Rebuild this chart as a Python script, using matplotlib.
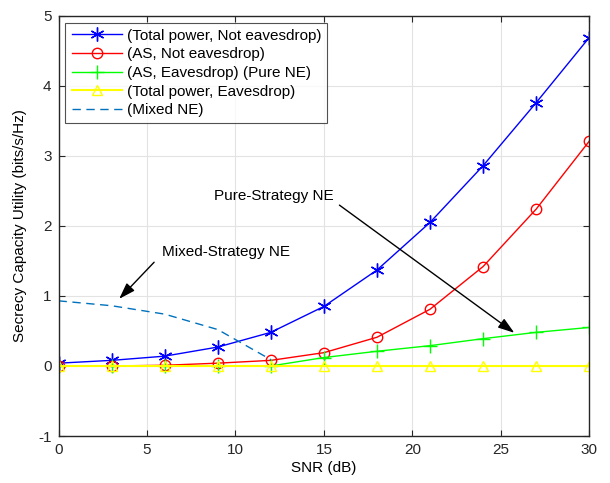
import numpy as np
import matplotlib
matplotlib.use('agg')
import matplotlib.pyplot as plt

plt.rcParams['font.family'] = ['Liberation Sans', 'DejaVu Sans']
plt.rcParams['font.size'] = 11
plt.rcParams['axes.unicode_minus'] = False

snr = [0, 3, 6, 9, 12, 15, 18, 21, 24, 27, 30]
total_not_eve = [0.04, 0.08, 0.14, 0.27, 0.48, 0.85, 1.37, 2.05, 2.86, 3.76, 4.69]
as_not_eve = [0.0, 0.0, 0.01, 0.04, 0.08, 0.19, 0.41, 0.81, 1.42, 2.24, 3.21]
as_eve = [0.0, 0.0, 0.0, 0.0, 0.0, 0.12, 0.21, 0.29, 0.39, 0.48, 0.55]
total_eve = [0.0] * 11
mixed_snr = [0, 3, 6, 9, 12]
mixed_ne = [0.93, 0.86, 0.74, 0.52, 0.09]

fig = plt.figure(figsize=(6.1, 4.83), dpi=100)
ax = fig.add_axes([0.096, 0.0973, 0.87, 0.87])

# asterisk marker like matlab '*'
ax.plot(snr, total_not_eve, '-', marker=(6, 2, 0), color='b', lw=1, ms=10, mew=1,
        label='(Total power, Not eavesdrop)')
ax.plot(snr, as_not_eve, '-o', color='r', lw=1, ms=7.5, mfc='none', mew=1,
        label='(AS, Not eavesdrop)')
ax.plot(snr, as_eve, '-+', color=(0, 1, 0), lw=1, ms=10, mew=1,
        label='(AS, Eavesdrop) (Pure NE)')
ax.plot(snr, total_eve, '-^', color=(1, 1, 0), lw=1.5, ms=7.5, mfc='none', mew=1,
        label='(Total power, Eavesdrop)')
ax.plot(mixed_snr, mixed_ne, '--', color=(0, 0.447, 0.741), lw=1, dashes=(6, 4),
        label='(Mixed NE)')

ax.set_xlim(0, 30)
ax.set_ylim(-1, 5)
ax.set_xticks(range(0, 31, 5))
ax.set_yticks(range(-1, 6))
ax.grid(True, color='#e3e3e3', lw=0.8)
ax.set_axisbelow(True)
ax.tick_params(direction='in', top=True, right=True, colors='#262626', length=4, pad=5)
for s in ax.spines.values():
    s.set_color('#262626')
    s.set_linewidth(1)

ax.set_xlabel('SNR (dB)', labelpad=3)
ax.set_ylabel('Secrecy Capacity Utility (bits/s/Hz)', labelpad=8)

arrow = dict(arrowstyle='-|>,head_length=0.9,head_width=0.3', color='k', lw=1)
ax.annotate('', xy=(3.32, 0.93), xytext=(5.51, 1.51), arrowprops=arrow)
ax.text(5.85, 1.63, 'Mixed-Strategy NE', va='center', ha='left')
ax.annotate('', xy=(25.89, 0.45), xytext=(15.75, 2.32), arrowprops=arrow)
ax.text(8.79, 2.43, 'Pure-Strategy NE', va='center', ha='left')

leg = ax.legend(loc='upper left', fancybox=False, edgecolor='#262626',
                borderaxespad=0.45, handlelength=3.3, labelspacing=0.3,
                borderpad=0.4, handletextpad=0.3)
leg.get_frame().set_linewidth(0.8)

fig.savefig('out.png', dpi=100)
